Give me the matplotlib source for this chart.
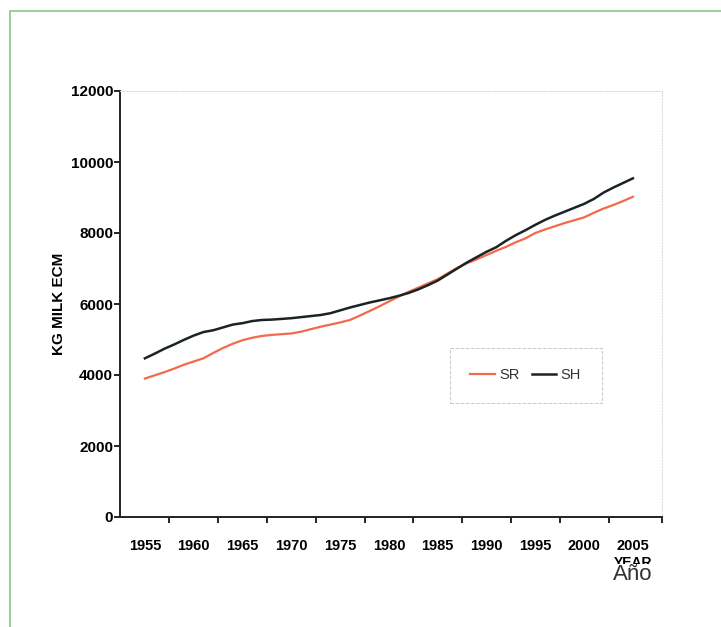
import matplotlib
matplotlib.use("Agg")
import matplotlib.pyplot as plt
from matplotlib.patches import Rectangle

# --- DATA ---
years = list(range(1955, 2006))
sr = [3900, 3990, 4080, 4180, 4290, 4380, 4470, 4620, 4760, 4880,
      4980, 5050, 5100, 5130, 5150, 5170, 5220, 5290, 5360, 5420,
      5480, 5550, 5670, 5800, 5930, 6070, 6210, 6340, 6460, 6580,
      6700, 6860, 7020, 7150, 7260, 7380, 7500, 7610, 7740, 7850,
      8000, 8100, 8190, 8280, 8360, 8440, 8570, 8690, 8790, 8900,
      9020]
sh = [4470, 4600, 4740, 4860, 4990, 5110, 5210, 5260, 5340, 5420,
      5460, 5520, 5550, 5560, 5580, 5600, 5630, 5660, 5690, 5740,
      5820, 5900, 5970, 6040, 6100, 6160, 6230, 6310, 6410, 6530,
      6660, 6830, 7000, 7170, 7320, 7470, 7600, 7780, 7940, 8080,
      8230, 8370, 8490, 8600, 8710, 8820, 8960, 9140, 9280, 9410,
      9540]
year_labels = [1955, 1960, 1965, 1970, 1975, 1980, 1985, 1990, 1995, 2000, 2005]
y_ticks = [0, 2000, 4000, 6000, 8000, 10000, 12000]

plt.rcParams['font.family'] = ['Liberation Sans', 'DejaVu Sans']

fig = plt.figure(figsize=(7.21, 6.27), dpi=100)

# green frame around the picture (right and bottom run off the edge)
fig.patches.append(Rectangle((10 / 721, -0.1), 1.2, 1.1 - 11 / 627, transform=fig.transFigure,
                             fill=False, edgecolor='#8cc68a', linewidth=1.2))

ax = fig.add_axes([120 / 721, 1 - 517 / 627, 542 / 721, 426 / 627])

ax.plot(years, sr, color='#f26a4b', linewidth=1.6, label='SR')
ax.plot(years, sh, color='#1b2424', linewidth=1.8, label='SH')

ax.set_xlim(1952.45, 2007.98)
ax.set_ylim(0, 12000)

ax.set_yticks(y_ticks)
ax.set_yticklabels([str(v) for v in y_ticks], fontweight='bold', fontsize=11)
ax.set_xticks(year_labels)
ax.set_xticklabels([str(v) for v in year_labels], fontweight='bold', fontsize=10.5)
ax.tick_params(axis='x', length=0, pad=16)
ax.set_xticks([1957.5 + 5 * i for i in range(10)] + [2007.98], minor=True)
ax.tick_params(axis='x', which='minor', length=4, width=1.2, direction='out')
ax.tick_params(axis='y', length=4, width=1.2, direction='out', pad=1)

for s in ['left', 'bottom']:
    ax.spines[s].set_linewidth(1.4)
    ax.spines[s].set_color('#222222')
for s in ['top', 'right']:
    ax.spines[s].set_color('#dddddd')
    ax.spines[s].set_linestyle(':')
    ax.spines[s].set_linewidth(0.8)

ax.set_ylabel('KG MILK ECM', fontweight='bold', fontsize=11, labelpad=3)

leg = ax.legend(loc='upper left', bbox_to_anchor=((450 - 120) / 542, (517 - 348) / 426),
                ncol=2, frameon=True, fancybox=False, fontsize=10.5,
                handlelength=1.7, handletextpad=0.3,
                columnspacing=0.8, borderpad=1.4, borderaxespad=0)
leg.get_frame().set_edgecolor('#bbbbbb')
leg.get_frame().set_linestyle('--')
leg.get_frame().set_linewidth(0.7)
for t in leg.get_texts():
    t.set_color('#333333')

fig.text(633 / 721, 1 - 563 / 627, 'YEAR', fontweight='bold', fontsize=10,
         ha='center', va='center')
fig.text(633 / 721, 1 - 574 / 627, 'Año', fontsize=16, color='#333333',
         ha='center', va='center',
         bbox=dict(facecolor='white', edgecolor='none', pad=0))

fig.savefig('out.png', dpi=100)
